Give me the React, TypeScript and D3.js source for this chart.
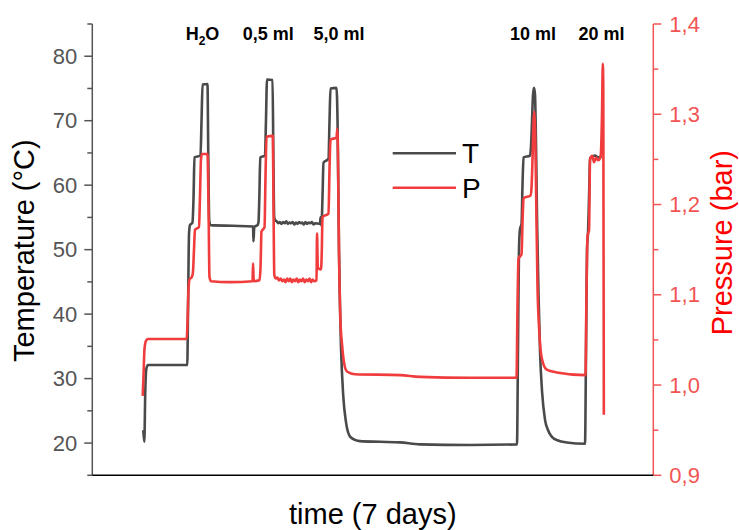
import React from "react";
import * as d3 from "d3";

// time in days (0–7), temperature in °C
const tempTimes = [
  0.636, 0.649, 0.661, 0.674, 0.695, 1.185, 1.194, 1.207, 1.219, 1.25, 1.263, 1.275, 1.35, 1.363, 1.376,
  1.437, 1.447, 1.459, 1.475, 1.75, 2.006, 2.011, 2.021, 2.061, 2.074, 2.084, 2.096, 2.155, 2.167, 2.18,
  2.249, 2.259, 2.27, 2.286,
  2.3, 2.32, 2.34, 2.36, 2.38, 2.4, 2.42, 2.44, 2.46, 2.48, 2.5, 2.52, 2.54, 2.56, 2.58, 2.6, 2.62, 2.64,
  2.66, 2.68, 2.7, 2.72, 2.74, 2.76, 2.78,
  2.842, 2.848, 2.86, 2.872, 2.885, 2.947, 2.96, 2.972, 3.047, 3.06, 3.078, 3.103, 3.132, 3.166, 3.216,
  3.278, 3.34, 3.59, 3.84, 4.089, 4.713, 5.299, 5.312, 5.324, 5.337, 5.356, 5.368, 5.381, 5.462, 5.474,
  5.487, 5.499, 5.512, 5.524, 5.537, 5.549, 5.568, 5.587, 5.612, 5.649, 5.687, 5.732, 5.811, 5.92, 6.148,
  6.161, 6.173, 6.186, 6.198, 6.211, 6.273, 6.31, 6.356,
];
const tempValues = [
  22.0, 20.2, 28.0, 31.5, 32.1, 32.1, 40.0, 52.5, 53.8, 54.2, 58.0, 64.3, 64.6, 70.0, 75.6,
  75.7, 65.0, 54.5, 53.8, 53.7, 53.6, 51.3, 53.5, 53.8, 54.3, 58.0, 64.3, 64.6, 70.0, 76.4,
  76.3, 65.0, 55.0, 54.5,
  54.4, 54.1, 54.3, 54.0, 54.3, 54.1, 54.4, 54.0, 54.2, 54.1, 54.3, 53.9, 54.2, 54.0, 54.3, 54.1, 54.2, 53.9,
  54.3, 54.0, 54.2, 54.1, 54.3, 53.9, 54.1,
  54.0, 55.0, 53.7, 58.0, 63.5, 64.1, 70.0, 75.0, 75.1, 70.0, 50.0, 35.0, 27.2, 23.2, 21.0,
  20.5, 20.3, 20.2, 20.1, 19.8, 19.7, 19.8, 35.0, 50.0, 53.2, 54.0, 60.0, 64.3, 64.6, 66.0,
  70.0, 74.0, 75.1, 74.0, 66.0, 55.0, 43.0, 34.0, 28.0, 23.6, 22.0, 21.0, 20.4, 20.1, 19.9,
  35.0, 50.0, 52.8, 58.0, 64.2, 64.6, 64.3, 64.5,
];

// time in days, pressure in bar
const pressureTimes = [
  0.629, 0.639, 0.651, 0.67, 0.695, 1.178, 1.188, 1.2, 1.213, 1.244, 1.256, 1.269, 1.281, 1.331, 1.344,
  1.356, 1.369, 1.437, 1.45, 1.462, 1.481, 1.719, 1.999, 2.006, 2.014, 2.086, 2.099, 2.111, 2.149, 2.161,
  2.174, 2.253, 2.261, 2.271, 2.292,
  2.31, 2.33, 2.35, 2.37, 2.39, 2.41, 2.43, 2.45, 2.47, 2.49, 2.51, 2.53, 2.55, 2.57, 2.59, 2.61, 2.63,
  2.65, 2.67, 2.69, 2.71, 2.73, 2.75, 2.77, 2.798,
  2.804, 2.814, 2.854, 2.864, 2.872, 2.947, 2.96, 2.972, 3.047, 3.057, 3.066, 3.078, 3.097, 3.116, 3.141,
  3.178, 3.278, 3.84, 4.089, 4.713, 5.293, 5.306, 5.318, 5.356, 5.368, 5.381, 5.468, 5.48, 5.493, 5.505,
  5.515, 5.53, 5.543, 5.555, 5.574, 5.608, 5.67, 5.795, 6.154, 6.166, 6.179, 6.198, 6.211, 6.236, 6.261,
  6.286, 6.31, 6.341, 6.36, 6.37, 6.376, 6.383,
];
const pressureValues = [
  0.988, 1.01, 1.04, 1.049, 1.051, 1.051, 1.07, 1.105, 1.117, 1.12, 1.125, 1.15, 1.172, 1.175, 1.21,
  1.25, 1.256, 1.256, 1.2, 1.12, 1.115, 1.114, 1.115, 1.135, 1.115, 1.116, 1.13, 1.17, 1.175, 1.23,
  1.275, 1.276, 1.2, 1.122, 1.118,
  1.119, 1.116, 1.118, 1.115, 1.117, 1.114, 1.118, 1.115, 1.118, 1.114, 1.117, 1.115, 1.118, 1.114, 1.117,
  1.115, 1.118, 1.114, 1.117, 1.115, 1.118, 1.114, 1.117, 1.115, 1.116,
  1.168, 1.13, 1.128, 1.15, 1.186, 1.19, 1.24, 1.272, 1.274, 1.284, 1.25, 1.15, 1.07, 1.045, 1.025,
  1.015, 1.012, 1.011, 1.009, 1.008, 1.008, 1.09, 1.14, 1.145, 1.18, 1.207, 1.21, 1.218, 1.25, 1.29,
  1.303, 1.26, 1.18, 1.11, 1.065, 1.03, 1.017, 1.014, 1.011, 1.1, 1.165, 1.172, 1.25, 1.254, 1.247,
  1.252, 1.249, 1.252, 1.3, 1.356, 1.33, 0.967,
];

const tempTicks = [20, 30, 40, 50, 60, 70, 80];
const tempMinorTicks = [15, 25, 35, 45, 55, 65, 75, 85];
const pressureTicks = [0.9, 1.0, 1.1, 1.2, 1.3, 1.4];
const pressureMinorTicks = [0.95, 1.05, 1.15, 1.25, 1.35];

const eventLabels = ["H2O", "0,5 ml", "5,0 ml", "10 ml", "20 ml"];
const eventTimes = [1.375, 2.197, 3.077, 5.499, 6.354];

const seriesNames = ["T", "P"];

const W = 739;
const H = 530;
const M = { left: 92.3, right: 739 - 653.3, top: 24, bottom: 530 - 475.3 };
const FONT = "'Liberation Sans', Arial, Helvetica, sans-serif";
const T_COLOR = "#4a4a4a";
const P_COLOR = "#f03c3c";
const AXIS_RED = "#f25454";

export default function App() {
  const x = d3.scaleLinear().domain([0, 7]).range([M.left, W - M.right]);
  const yT = d3.scaleLinear().domain([15, 85]).range([H - M.bottom, M.top]);
  const yP = d3.scaleLinear().domain([0.9, 1.4]).range([H - M.bottom, M.top]);

  const tData = tempTimes.map((t, i) => [t, tempValues[i]] as [number, number]);
  const pData = pressureTimes.map((t, i) => [t, pressureValues[i]] as [number, number]);

  const tLine = d3
    .line<[number, number]>()
    .x((d) => x(d[0]))
    .y((d) => yT(d[1]))
    .curve(d3.curveMonotoneX);
  const pLine = d3
    .line<[number, number]>()
    .x((d) => x(d[0]))
    .y((d) => yP(d[1]))
    .curve(d3.curveMonotoneX);

  const x0 = x(0);
  const x1 = x(7);
  const yBottom = yT(15);
  const fmtP = (v: number) => v.toFixed(1).replace(".", ",");

  const legendY = [153.3, 187.7];
  const legendColors = [T_COLOR, P_COLOR];

  return (
    <svg
      width={W}
      height={H}
      style={{ position: "absolute", left: 0, top: 0, background: "#fff" }}
      fontFamily={FONT}
    >
      <rect width={W} height={H} fill="#fff" />

      {/* data lines */}
      <path d={tLine(tData) || ""} fill="none" stroke={T_COLOR} strokeWidth={2.6} strokeLinejoin="round" />
      <path d={pLine(pData) || ""} fill="none" stroke={P_COLOR} strokeWidth={2.6} strokeLinejoin="round" />

      {/* left axis */}
      <line x1={x0} x2={x0} y1={yT(85)} y2={yT(15)} stroke="#555" strokeWidth={1.5} />
      {tempTicks.map((v) => (
        <g key={"tt" + v}>
          <line x1={x0 - 8} x2={x0} y1={yT(v)} y2={yT(v)} stroke="#555" strokeWidth={1.5} />
          <text x={x0 - 15} y={yT(v)} dy="0.35em" textAnchor="end" fontSize={22} fill="#555">
            {v}
          </text>
        </g>
      ))}
      {tempMinorTicks.map((v) => (
        <line key={"tm" + v} x1={x0 - 5} x2={x0} y1={yT(v)} y2={yT(v)} stroke="#555" strokeWidth={1.5} />
      ))}
      <text
        transform={`translate(34, ${(yT(15) + yT(85)) / 2 + 1}) rotate(-90)`}
        textAnchor="middle"
        fontSize={29}
        fill="#000"
      >
        Temperature (°C)
      </text>

      {/* right axis */}
      <line x1={x1} x2={x1} y1={yP(1.4)} y2={yP(0.9)} stroke={AXIS_RED} strokeWidth={1.5} />
      {pressureTicks.map((v) => (
        <g key={"pt" + v}>
          <line x1={x1} x2={x1 + 8} y1={yP(v)} y2={yP(v)} stroke={AXIS_RED} strokeWidth={1.5} />
          <text x={x1 + 16} y={yP(v)} dy="0.35em" textAnchor="start" fontSize={22} fill={AXIS_RED}>
            {fmtP(v)}
          </text>
        </g>
      ))}
      {pressureMinorTicks.map((v) => (
        <line key={"pm" + v} x1={x1} x2={x1 + 5} y1={yP(v)} y2={yP(v)} stroke={AXIS_RED} strokeWidth={1.5} />
      ))}
      <text
        transform={`translate(732, ${(yP(0.9) + yP(1.4)) / 2 - 7}) rotate(-90)`}
        textAnchor="middle"
        fontSize={29}
        fill="#ff0000"
      >
        Pressure (bar)
      </text>

      {/* bottom axis */}
      <line x1={x0} x2={x1} y1={yBottom} y2={yBottom} stroke="#000" strokeWidth={1.6} />
      <text x={(x0 + x1) / 2} y={524} textAnchor="middle" fontSize={29} fill="#000">
        time (7 days)
      </text>

      {/* event labels */}
      {eventLabels.map((lab, i) =>
        lab === "H2O" ? (
          <text key={lab} x={x(eventTimes[i])} y={39.5} textAnchor="middle" fontSize={18} fontWeight="bold" fill="#000">
            H
            <tspan fontSize={12} dy={5}>
              2
            </tspan>
            <tspan dy={-5}>O</tspan>
          </text>
        ) : (
          <text key={lab} x={x(eventTimes[i])} y={39.5} textAnchor="middle" fontSize={18} fontWeight="bold" fill="#000">
            {lab}
          </text>
        )
      )}

      {/* legend */}
      {seriesNames.map((n, i) => (
        <g key={n}>
          <line x1={392.7} x2={456} y1={legendY[i]} y2={legendY[i]} stroke={legendColors[i]} strokeWidth={2.6} />
          <text x={462} y={legendY[i] + 10} fontSize={28} fill="#000">
            {n}
          </text>
        </g>
      ))}
    </svg>
  );
}
